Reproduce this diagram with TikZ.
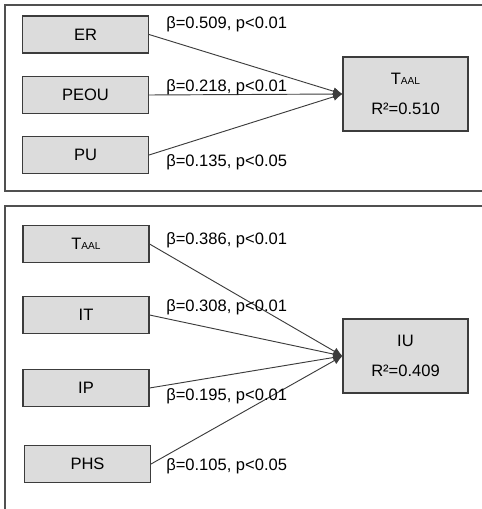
\documentclass[tikz,border=0pt]{standalone}
\usepackage{fontspec}
\setmainfont{Liberation Sans}
\usetikzlibrary{arrows.meta}
\definecolor{boxgray}{HTML}{DCDCDC}
\definecolor{edgegray}{HTML}{3C3C3C}
\newcommand{\taal}{T{\fontsize{7.6}{9}\selectfont AAL}}
\begin{document}
\begin{tikzpicture}[x=0.75pt,y=-0.75pt,
 font=\fontsize{12.4}{14}\selectfont,
 frame/.style={draw=edgegray!90,line width=0.8pt},
 varbox/.style={draw=edgegray,fill=boxgray,line width=0.8pt,minimum width=94.5pt,minimum height=27.75pt,inner sep=0pt},
 outbox/.style={varbox,minimum width=93.75pt,minimum height=55.5pt,align=center},
 coef/.style={anchor=west,inner sep=0pt},
 path/.style={draw=edgegray,line width=0.7pt,-{Latex[length=7pt,width=6pt]}}]
 \useasboundingbox (0,0) rectangle (481,509);
 % upper panel
 \draw[frame] (5,5) rectangle (490,191);
 \node[varbox] (er) at (85.5,34.5) {ER};
 \node[varbox] (peou) at (85.5,95) {PEOU};
 \node[varbox] (pu) at (85.5,155) {PU};
 \node[outbox] (taal) at (405.5,94) {\taal\\[9pt]R²=0.510};
 \draw[path] (er.east) -- (taal.west);
 \draw[path] (peou.east) -- (taal.west);
 \draw[path] (pu.east) -- (taal.west);
 \node[coef] (c1) at (166,24) {β=0.509, p<0.01};
 \node[coef] (c2) at (166,87) {β=0.218, p<0.01};
 \node[coef] (c3) at (166,162) {β=0.135, p<0.05};
 % lower panel
 \draw[frame] (5,206) rectangle (490,520);
 \node[varbox] (taalin) at (86,244) {\taal};
 \node[varbox] (it) at (86,315) {IT};
 \node[varbox] (ip) at (86,388) {IP};
 \node[varbox] (phs) at (87.5,464) {PHS};
 \node[outbox] (iu) at (405.5,356) {IU\\[9pt]R²=0.409};
 \draw[path] (taalin.east) -- (iu.west);
 \draw[path] (it.east) -- (iu.west);
 \draw[path] (ip.east) -- (iu.west);
 \draw[path] (phs.east) -- (iu.west);
 \node[coef] (c4) at (166,240) {β=0.386, p<0.01};
 \node[coef] (c5) at (166,307) {β=0.308, p<0.01};
 \node[coef] (c6) at (166,396) {β=0.195, p<0.01};
 \node[coef] (c7) at (166,466) {β=0.105, p<0.05};
\end{tikzpicture}
\end{document}
